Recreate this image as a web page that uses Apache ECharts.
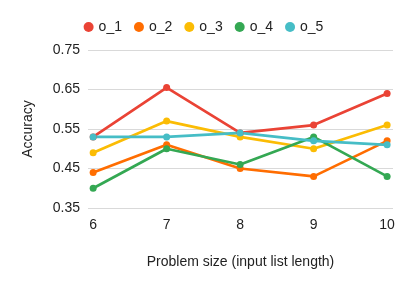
<!DOCTYPE html>
<html><head><meta charset="utf-8">
<script src="https://cdn.jsdelivr.net/npm/echarts@6/dist/echarts.min.js"></script>
<style>html,body{margin:0;padding:0;background:#fff}#c{width:407px;height:286px}</style>
</head><body><div id="c"></div>
<script>
const categories = [6, 7, 8, 9, 10];
const seriesNames = ['o_1', 'o_2', 'o_3', 'o_4', 'o_5'];
const o_1 = [0.53, 0.655, 0.54, 0.56, 0.64];
const o_2 = [0.44, 0.51, 0.45, 0.43, 0.52];
const o_3 = [0.49, 0.57, 0.53, 0.50, 0.56];
const o_4 = [0.40, 0.50, 0.46, 0.53, 0.43];
const o_5 = [0.53, 0.53, 0.54, 0.52, 0.51];
const values = [o_1, o_2, o_3, o_4, o_5];
const colors = ['#EA4335', '#FF6D01', '#FBBC04', '#34A853', '#46BDC6'];
const font = 'Liberation Sans, Arial, sans-serif';
const chart = echarts.init(document.getElementById('c'));
chart.setOption({
  animation: false,
  color: colors,
  legend: {
    top: 15, left: 'center', icon: 'circle', itemWidth: 10, itemHeight: 10, itemGap: 12,
    textStyle: {fontFamily: font, fontSize: 14, color: '#222'},
    data: seriesNames
  },
  grid: {left: 88, right: 14, top: 50, bottom: 78},
  xAxis: {
    type: 'value', min: 5.93, max: 10.08,
    name: 'Problem size (input list length)', nameLocation: 'middle', nameGap: 47,
    nameTextStyle: {fontFamily: font, fontSize: 14, color: '#222'},
    axisLine: {show: false}, axisTick: {show: false}, splitLine: {show: false},
    axisLabel: {fontFamily: font, fontSize: 14, color: '#222', margin: 10, customValues: categories}
  },
  yAxis: {
    type: 'value', min: 0.35, max: 0.75, interval: 0.1,
    name: 'Accuracy', nameLocation: 'middle', nameGap: 53,
    nameTextStyle: {fontFamily: font, fontSize: 14, color: '#222'},
    axisLine: {show: false}, axisTick: {show: false},
    axisLabel: {fontFamily: font, fontSize: 14, color: '#222', margin: 8, formatter: v => v.toFixed(2)},
    splitLine: {lineStyle: {color: '#d9d9d9', width: 1}}
  },
  series: seriesNames.map((n, i) => ({
    name: n, type: 'line', data: categories.map((c, j) => [c, values[i][j]]),
    symbol: 'circle', symbolSize: 7,
    lineStyle: {width: 2.7}, itemStyle: {color: colors[i]}
  }))
});
</script></body></html>
